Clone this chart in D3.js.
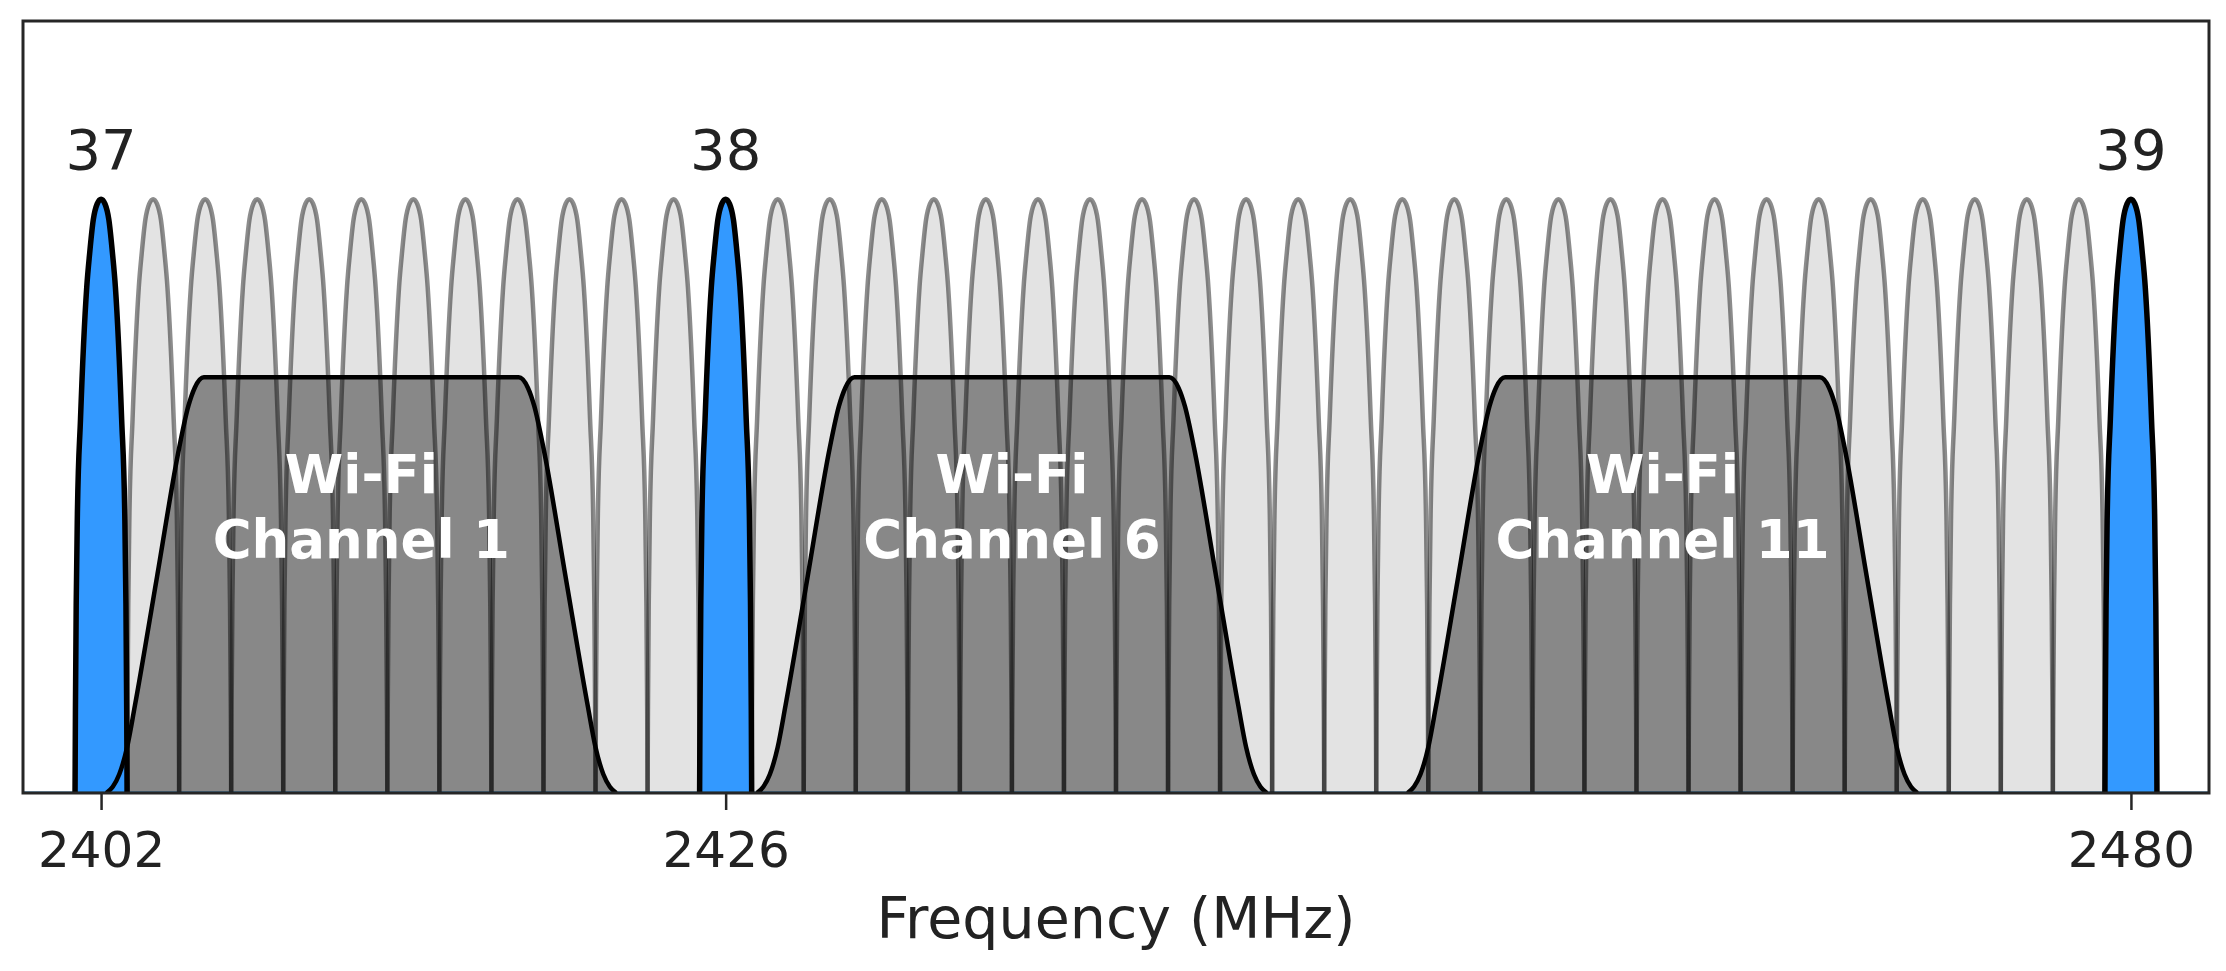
<!DOCTYPE html>
<html>
<head>
<meta charset="utf-8">
<script src="https://cdn.jsdelivr.net/npm/d3@7"></script>
<style>
  html, body { margin: 0; padding: 0; background: #fff; }
  svg { display: block; font-family: "DejaVu Sans", sans-serif; }
</style>
</head>
<body>
<svg id="chart" width="2226" height="971"></svg>
<script>
// ---------- data ----------
const advChannels = ["37", "38", "39"];
const advFreqs = [2402, 2426, 2480];
const dataFreqs = [2404, 2406, 2408, 2410, 2412, 2414, 2416, 2418, 2420, 2422, 2424,
                   2428, 2430, 2432, 2434, 2436, 2438, 2440, 2442, 2444, 2446, 2448,
                   2450, 2452, 2454, 2456, 2458, 2460, 2462, 2464, 2466, 2468, 2470,
                   2472, 2474, 2476, 2478];
const wifiLabels = ["Channel 1", "Channel 6", "Channel 11"];
const wifiFreqs = [2412, 2437, 2462];
const wifiLevel = 0.7;
const bleLevel = 1.0;
const xTicks = [2402, 2426, 2480];
const xDomain = [2399, 2483];
const yDomain = [0, 1.3];
// BLE channel spectral profile (offset in MHz, relative height)
const bleOffsets = [-1.0, -0.985, -0.955, -0.91, -0.79, -0.55, -0.44, -0.30, -0.15, 0, 0.15, 0.30, 0.44, 0.55, 0.79, 0.91, 0.955, 0.985, 1.0];
const bleHeights = [0, 0.14, 0.32, 0.47, 0.63, 0.852, 0.908, 0.965, 0.992, 1, 0.992, 0.965, 0.908, 0.852, 0.63, 0.47, 0.32, 0.14, 0];
// Wi-Fi spectral mask profile (offset in MHz, relative height)
const wifiOffsets = [-9.8, -9.55, -9.3, -9.0, -8.7, -7.85, -7.0, -6.65, -6.4, -6.05, 6.05, 6.4, 6.65, 7.0, 7.85, 8.7, 9.0, 9.3, 9.55, 9.8];
const wifiHeights = [0, 0.015, 0.045, 0.11, 0.21, 0.52, 0.83, 0.93, 0.975, 1, 1, 0.975, 0.93, 0.83, 0.52, 0.21, 0.11, 0.045, 0.015, 0];

// ---------- layout ----------
const svg = d3.select("#chart");
const L = 23, R = 2209, T = 21, B = 793;
const x = d3.scaleLinear().domain(xDomain).range([L, R]);
const y = d3.scaleLinear().domain(yDomain).range([B, T]);

svg.append("defs").append("clipPath").attr("id", "plotclip")
  .append("rect").attr("x", L).attr("y", T).attr("width", R - L).attr("height", B - T);

const plot = svg.append("g").attr("clip-path", "url(#plotclip)");

function pts(center, offsets, heights, level) {
  return offsets.map((o, i) => [center + o, heights[i] * level]);
}
const area = d3.area().x(d => x(d[0])).y0(y(0)).y1(d => y(d[1])).curve(d3.curveMonotoneX);
const line = d3.line().x(d => x(d[0])).y(d => y(d[1])).curve(d3.curveMonotoneX);

const dataShapes = dataFreqs.map(f => pts(f, bleOffsets, bleHeights, bleLevel));
const advShapes = advFreqs.map(f => pts(f, bleOffsets, bleHeights, bleLevel));
const wifiShapes = wifiFreqs.map(f => pts(f, wifiOffsets, wifiHeights, wifiLevel));

// fills (drawn first, like matplotlib collections)
plot.append("g").selectAll("path").data(dataShapes).join("path")
  .attr("d", area).attr("fill", "#e3e3e3");
plot.append("g").selectAll("path").data(wifiShapes).join("path")
  .attr("d", area).attr("fill", "#000").attr("fill-opacity", 0.4);
plot.append("g").selectAll("path").data(advShapes).join("path")
  .attr("d", area).attr("fill", "#3399ff");

// baseline line
plot.append("line")
  .attr("x1", x(xDomain[0])).attr("x2", x(xDomain[1]))
  .attr("y1", y(0)).attr("y2", y(0))
  .attr("stroke", "#1f77b4").attr("stroke-width", 3);

// strokes
plot.append("g").selectAll("path").data(dataShapes).join("path")
  .attr("d", line).attr("fill", "none")
  .attr("stroke", "#000").attr("stroke-opacity", 0.45).attr("stroke-width", 4.5);
plot.append("g").selectAll("path").data(wifiShapes).join("path")
  .attr("d", line).attr("fill", "none")
  .attr("stroke", "#000").attr("stroke-width", 4.5);
plot.append("g").selectAll("path").data(advShapes).join("path")
  .attr("d", line).attr("fill", "none")
  .attr("stroke", "#000").attr("stroke-width", 5.5);

// Wi-Fi labels
const wl = svg.append("g").selectAll("text").data(wifiFreqs).join("text")
  .attr("text-anchor", "middle")
  .attr("fill", "#fff")
  .attr("font-weight", "bold")
  .attr("font-size", 53);
wl.append("tspan").attr("x", d => x(d)).attr("y", y(0.505)).text("Wi-Fi");
wl.append("tspan").attr("x", d => x(d)).attr("dy", 65).text((d, i) => wifiLabels[i]);

// advertising channel numbers
svg.append("g").selectAll("text").data(advFreqs).join("text")
  .attr("x", d => x(d)).attr("y", y(1.05))
  .attr("text-anchor", "middle")
  .attr("font-size", 56)
  .attr("fill", "#222")
  .text((d, i) => advChannels[i]);

// frame
svg.append("rect").attr("x", L).attr("y", T).attr("width", R - L).attr("height", B - T)
  .attr("fill", "none").attr("stroke", "#262626").attr("stroke-width", 3);

// x axis
const ax = svg.append("g").attr("transform", `translate(0,${B})`)
  .call(d3.axisBottom(x).tickValues(xTicks).tickFormat(d3.format("d")).tickSize(17).tickPadding(21));
ax.select(".domain").remove();
ax.selectAll(".tick line").attr("stroke", "#262626").attr("stroke-width", 2.5);
ax.selectAll(".tick text").attr("font-size", 50).attr("fill", "#222")
  .attr("font-family", "DejaVu Sans, sans-serif");

svg.append("text")
  .attr("x", (L + R) / 2).attr("y", 938)
  .attr("text-anchor", "middle")
  .attr("font-size", 57)
  .attr("fill", "#222")
  .text("Frequency (MHz)");
</script>
</body>
</html>
